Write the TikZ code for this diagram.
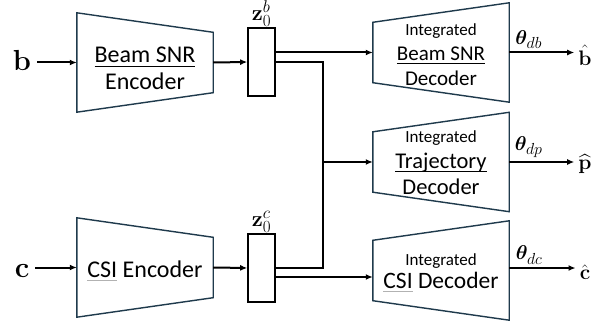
\documentclass[tikz,border=0pt]{standalone}
\usepackage{fix-cm}
\usepackage{amsmath,bm}
\usepackage[no-math]{fontspec}
\setmainfont{Carlito}
\usetikzlibrary{arrows.meta,positioning}
\definecolor{trapline}{HTML}{1F3A4C}
\DeclareMathSizes{20}{20}{16}{13}
\DeclareMathSizes{22}{22}{17}{14}
\newcommand{\ulin}[1]{\underline{\smash{#1}}\vphantom{#1}}
\newcommand{\ulgray}[1]{{\color{gray!60}\underline{\smash{\color{black}#1}}}\vphantom{#1}}
\newcommand{\intg}{{\fontsize{17}{20}\selectfont Integrated}}

\begin{document}
\begin{tikzpicture}[x=1pt,y=-1pt,%
block/.style={rectangle, minimum width=136pt, minimum height=99pt, inner sep=0pt},
trap/.style={draw=trapline, line width=1.4pt, line join=miter},
enctext/.style={align=center, inner sep=0pt, font=\fontsize{24}{27}\selectfont},
dectext/.style={align=center, inner sep=0pt, font=\fontsize{21}{25}\selectfont},
latent/.style={rectangle, draw=black, line width=1.6pt, minimum width=27pt,
  minimum height=68pt, inner sep=0pt},
sig/.style={inner sep=6pt, font=\fontsize{29}{30}\selectfont},
est/.style={inner sep=4pt, font=\fontsize{21}{24}\selectfont},
wt/.style={inner sep=3pt, font=\fontsize{20}{24}\selectfont},
zlabel/.style={inner sep=0.5pt, font=\fontsize{22}{24}\selectfont},
conn/.style={line width=2pt},
arr/.style={conn, -{Latex[length=7pt,width=6pt]}} ]
\useasboundingbox (0,0) rectangle (611,326);

% encoders
\node[block] (encb) at (145,62.5) {};
\node[enctext] (encbtxt) at ([yshift=-6pt]encb.center) {\ulin{Beam SNR}\\Encoder};
\node[block] (encc) at (145,267.5) {};
\node[enctext] (encctxt) at ([yshift=-4pt]encc.center) {\ulgray{CSI} Encoder};
\foreach \n in {encb,encc}
  \draw[trap] (\n.north west) -- ([yshift=-19.5pt]\n.north east)
    -- ([yshift=19.5pt]\n.south east) -- (\n.south west) -- cycle;

% latent vectors
\node[latent] (zb) at (261.5,62) {};
\node[zlabel, above=0pt of zb] (zbl) {$\mathbf{z}_0^{b}$};
\node[latent] (zc) at (261.5,268) {};
\node[zlabel, above=0pt of zc] (zcl) {$\mathbf{z}_0^{c}$};

% decoders
\node[block] (decb) at (441,52.5) {};
\node[dectext] (decbtxt) at ([yshift=-2.5pt]decb.center)
  {\intg\\\ulin{Beam SNR}\\Decoder};
\node[block] (decp) at (441,162) {};
\node[dectext, font=\fontsize{22.5}{26}\selectfont] (decptxt) at ([yshift=-1pt]decp.center)
  {\intg\\\ulin{Trajectory}\\Decoder};
\node[block] (decc) at (441,270.5) {};
\node[dectext, font=\fontsize{23.5}{23}\selectfont] (decctxt) at ([yshift=-3pt]decc.center)
  {\intg\\\ulgray{CSI} Decoder};
\foreach \n in {decb,decp,decc}
  \draw[trap] ([yshift=-19.5pt]\n.north west) -- (\n.north east)
    -- (\n.south east) -- ([yshift=19.5pt]\n.south west) -- cycle;

% inputs and outputs
\node[sig] (b) at (22,60) {$\mathbf{b}$};
\node[sig] (c) at (22,271) {$\mathbf{c}$};
\node[est] (bhat) at (585,55) {$\hat{\mathbf{b}}$};
\node[est] (phat) at (585,164) {$\widehat{\mathbf{p}}$};
\node[est] (chat) at (585,272) {$\hat{\mathbf{c}}$};

\draw[arr] (b.east |- encb.west) -- (encb.west);
\draw[arr] (encb.east) -- (zb.west);
\draw[arr] (c.east |- encc.west) -- (encc.west);
\draw[arr] (encc.east) -- (zc.west);

% shared bus to the decoders
\draw[arr] (zb.east |- decb.west) -- (decb.west);
\coordinate (bus) at (323,162);
\draw[conn] (zb.east) -| (bus) |- (zc.east);
\draw[arr] (bus) -- (decp.west);
\coordinate (zcout) at ([yshift=-9pt]zc.east);
\draw[arr] (zcout) -- (zcout -| decc.west);

\draw[arr] (decb.east) -- (decb.east -| bhat.west)
  node[wt, pos=0.3, above] (thdb) {$\bm{\theta}_{db}$};
\draw[arr] (decp.east) -- (decp.east -| phat.west)
  node[wt, pos=0.3, above] (thdp) {$\bm{\theta}_{dp}$};
\draw[arr] ([yshift=2.5pt]decc.east) -- ([yshift=2.5pt]decc.east -| chat.west)
  node[wt, pos=0.3, above] (thdc) {$\bm{\theta}_{dc}$};
\end{tikzpicture}
\end{document}
